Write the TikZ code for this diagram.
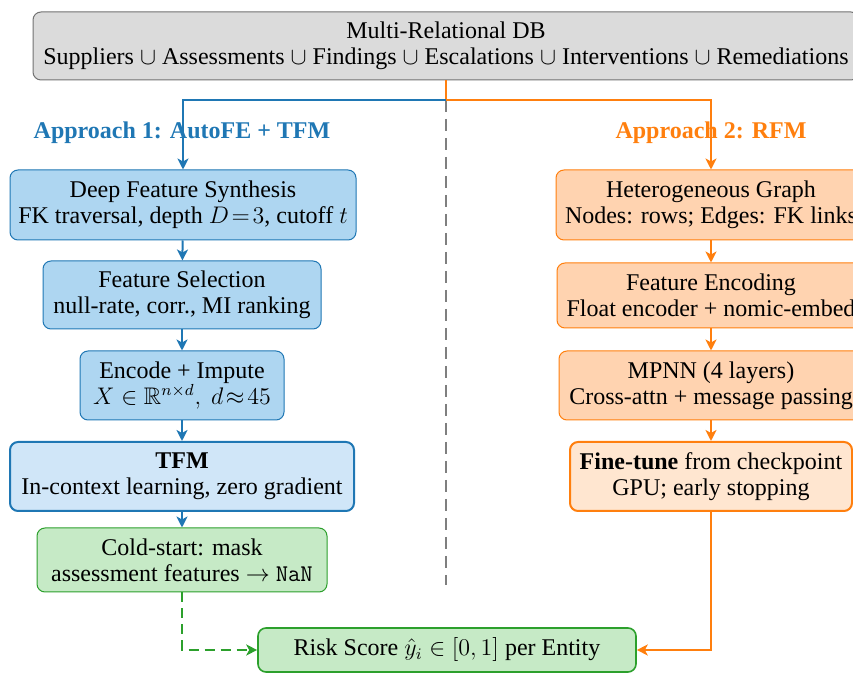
\documentclass[tikz,border=0pt]{standalone}
\usepackage{fontspec}
\setmainfont{Liberation Serif}
\usepackage{amsmath,amssymb}
\usetikzlibrary{arrows.meta}

\definecolor{tabblue}{HTML}{1F77B4}
\definecolor{taborange}{HTML}{FF7F0E}
\definecolor{tabgreen}{HTML}{2CA02C}
\definecolor{tabgray}{HTML}{7F7F7F}
\definecolor{bluefill}{HTML}{AED6F1}
\definecolor{bluelight}{HTML}{D0E6F8}
\definecolor{orangefill}{HTML}{FFD3B0}
\definecolor{orangelight}{HTML}{FFE6D0}
\definecolor{greenfill}{HTML}{C6EAC6}

\begin{document}
\begin{tikzpicture}[
        x=0.5pt, y=-0.5pt,
        every node/.append style={inner sep=2pt, align=center, font=\fontsize{12}{13}\selectfont},
        box/.style={draw, rounded corners=4pt, line width=0.5pt},
        dbbox/.style={box, draw=tabgray!90!black, fill=black!14},
        bluebox/.style={box, draw=tabblue, fill=bluefill},
        bluemain/.style={box, draw=tabblue, fill=bluelight, line width=1pt},
        orangebox/.style={box, draw=taborange, fill=orangefill},
        orangemain/.style={box, draw=taborange, fill=orangelight, line width=1pt},
        greenbox/.style={box, draw=tabgreen, fill=greenfill},
        greenmain/.style={greenbox, line width=0.8pt},
        flow/.style={line width=1pt, -{Stealth[length=5.5pt,width=5.5pt,inset=1.5pt]}},
        heading/.style={font=\fontsize{12}{13}\selectfont\bfseries}
    ]
        \useasboundingbox (0,0) rectangle (853,673);
        \clip (0,0) rectangle (853,673);

        % source tables
        \node[dbbox, minimum width=413pt, minimum height=34pt] (db) at (446,46)
            {Multi-Relational DB\\Suppliers $\cup$ Assessments $\cup$ Findings $\cup$ Escalations $\cup$ Interventions $\cup$ Remediations};

        % approach 1
        \node[bluebox, minimum width=173pt, minimum height=35pt] (dfs) at (183,205)
            {Deep Feature Synthesis\\FK traversal, depth $D\!=\!3$, cutoff $t$};
        \node[bluebox, minimum width=139pt, minimum height=34pt] (fsel) at (182,295)
            {Feature Selection\\null-rate, corr., MI ranking};
        \node[bluebox, minimum width=102pt, minimum height=34.5pt] (enc) at (182,385.5)
            {Encode + Impute\\$X \in \mathbb{R}^{n\times d},\ d\!\approx\!45$};
        \node[bluemain, minimum width=172pt, minimum height=34.5pt] (tfm) at (182,476.5)
            {\textbf{TFM}\\In-context learning, zero gradient};
        \node[greenbox, minimum width=145pt, minimum height=32pt] (cold) at (182,560)
            {Cold-start: mask\\assessment features $\rightarrow$ \texttt{NaN}};

        % approach 2
        \node[orangebox, minimum width=155pt, minimum height=35pt] (hg) at (711,205)
            {Heterogeneous Graph\\Nodes: rows; Edges: FK links};
        \node[orangebox, minimum width=154pt, minimum height=32.5pt] (fenc) at (711,295.5)
            {Feature Encoding\\Float encoder + nomic-embed};
        \node[orangebox, minimum width=152pt, minimum height=34.5pt] (mpnn) at (711,385.5)
            {MPNN (4 layers)\\Cross-attn + message passing};
        \node[orangemain, minimum width=141pt, minimum height=34.5pt] (fine) at (711,476.5)
            {\textbf{Fine-tune} from checkpoint\\GPU; early stopping};

        % output
        \node[greenmain, minimum width=189pt, minimum height=22pt] (risk) at (447,650)
            {Risk Score $\hat{y}_i \in [0,1]$ per Entity};

        \node[heading, text=tabblue] (head1) at (182,133) {Approach 1: AutoFE + TFM};
        \node[heading, text=taborange] (head2) at (711,133) {Approach 2: RFM};

        \coordinate (split) at (446,100);
        \coordinate (divend) at (446,585);

        % divider between the two approaches
        \draw[tabgray, line width=1pt, dash pattern=on 6pt off 3.5pt] (split) -- (divend);

        \draw[taborange, line width=1pt] (db.south) -- (split);
        \draw[flow, tabblue] (split) -| (dfs.north);
        \draw[flow, taborange] (split) -| (hg.north);

        \draw[flow, tabblue] (dfs) -- (fsel);
        \draw[flow, tabblue] (fsel) -- (enc);
        \draw[flow, tabblue] (enc) -- (tfm);
        \draw[flow, tabblue] (tfm) -- (cold);

        \draw[flow, taborange] (hg) -- (fenc);
        \draw[flow, taborange] (fenc) -- (mpnn);
        \draw[flow, taborange] (mpnn) -- (fine);

        \draw[flow, tabgreen, dash pattern=on 5pt off 3pt] (cold.south) |- (risk.west);
        \draw[flow, taborange] (fine.south) |- (risk.east);
    \end{tikzpicture}
\end{document}
